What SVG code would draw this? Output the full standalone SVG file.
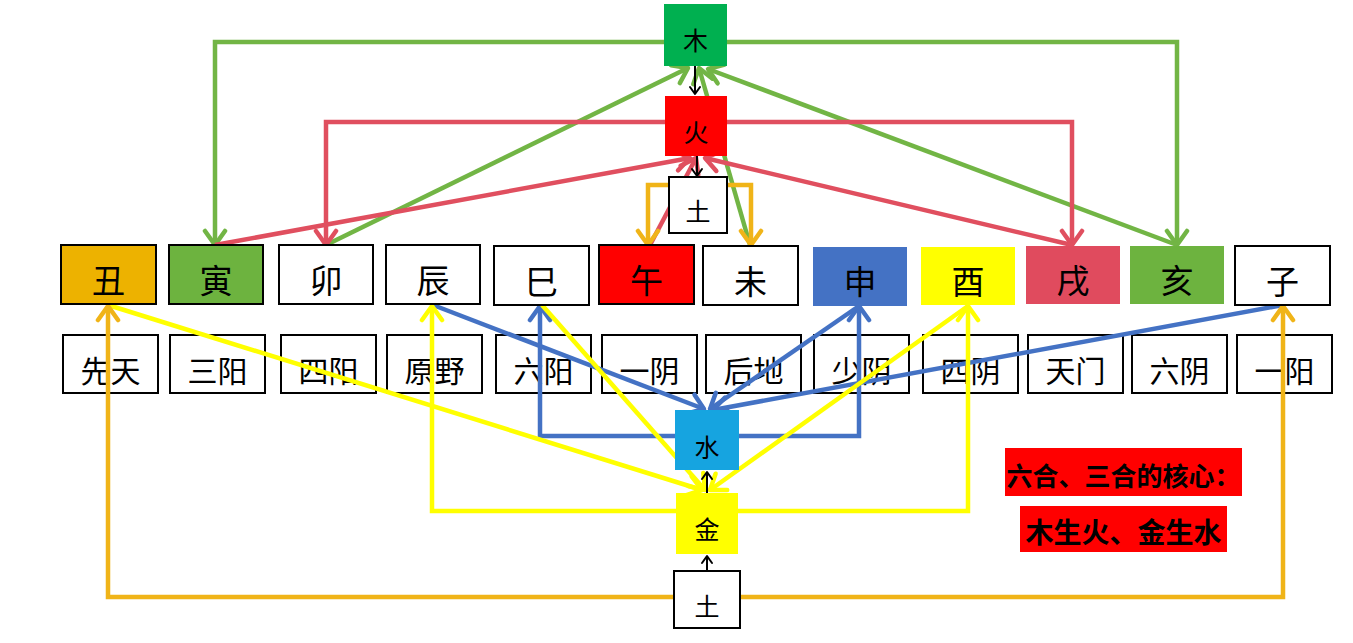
<svg xmlns="http://www.w3.org/2000/svg" width="1353" height="643" viewBox="0 0 1353 643">
<style>
.t{font-family:"Noto Sans CJK SC","Liberation Sans",sans-serif;fill:#000;text-anchor:middle;dominant-baseline:central}
.big{font-size:33px}
.lab{font-size:30px}
.mid{font-size:25px}
.note{font-size:26px;font-weight:bold}
.bx{stroke:#000;stroke-width:2}
.nb{stroke:none}
.c{fill:none;stroke-width:4.5;stroke-linejoin:miter}
.g{stroke:#72B545}
.r{stroke:#E04F5F}
.o{stroke:#F0B418}
.b{stroke:#4472C4}
.y{stroke:#FFFF00}
.k{fill:none;stroke:#000;stroke-width:2}
</style>
<defs>
<marker id="mg" markerUnits="userSpaceOnUse" viewBox="-20 -13 24 26" markerWidth="24" markerHeight="26" refX="0" refY="0" orient="auto"><path d="M-14,-10 L0,0 L-14,10" fill="none" stroke="#72B545" stroke-width="4.5" stroke-linecap="round" stroke-linejoin="round"/></marker>
<marker id="mr" markerUnits="userSpaceOnUse" viewBox="-20 -13 24 26" markerWidth="24" markerHeight="26" refX="0" refY="0" orient="auto"><path d="M-14,-10 L0,0 L-14,10" fill="none" stroke="#E04F5F" stroke-width="4.5" stroke-linecap="round" stroke-linejoin="round"/></marker>
<marker id="mo" markerUnits="userSpaceOnUse" viewBox="-20 -13 24 26" markerWidth="24" markerHeight="26" refX="0" refY="0" orient="auto"><path d="M-14,-10 L0,0 L-14,10" fill="none" stroke="#F0B418" stroke-width="4.5" stroke-linecap="round" stroke-linejoin="round"/></marker>
<marker id="mb" markerUnits="userSpaceOnUse" viewBox="-20 -13 24 26" markerWidth="24" markerHeight="26" refX="0" refY="0" orient="auto"><path d="M-14,-10 L0,0 L-14,10" fill="none" stroke="#4472C4" stroke-width="4.5" stroke-linecap="round" stroke-linejoin="round"/></marker>
<marker id="my" markerUnits="userSpaceOnUse" viewBox="-20 -13 24 26" markerWidth="24" markerHeight="26" refX="0" refY="0" orient="auto"><path d="M-14,-10 L0,0 L-14,10" fill="none" stroke="#FFFF00" stroke-width="4.5" stroke-linecap="round" stroke-linejoin="round"/></marker>
<marker id="mk" markerUnits="userSpaceOnUse" viewBox="-10 -7 12 14" markerWidth="12" markerHeight="14" refX="0" refY="0" orient="auto"><path d="M-7,-5 L0,0 L-7,5" fill="none" stroke="#000" stroke-width="2" stroke-linecap="round" stroke-linejoin="round"/></marker>
</defs>
<rect width="1353" height="643" fill="#fff"/>

<g id="labels">
<g id="l1"><rect class="bx" x="63" y="335" width="95" height="58" fill="#fff"/><text class="t lab" x="110.5" y="369">先天</text></g>
<g id="l2"><rect class="bx" x="170" y="335" width="95" height="58" fill="#fff"/><text class="t lab" x="217.5" y="369">三阳</text></g>
<g id="l3"><rect class="bx" x="281" y="335" width="95" height="58" fill="#fff"/><text class="t lab" x="328.5" y="369">四阳</text></g>
<g id="l4"><rect class="bx" x="387" y="335" width="95" height="58" fill="#fff"/><text class="t lab" x="434.5" y="369">原野</text></g>
<g id="l5"><rect class="bx" x="496" y="335" width="95" height="58" fill="#fff"/><text class="t lab" x="543.5" y="369">六阳</text></g>
<g id="l6"><rect class="bx" x="602" y="335" width="95" height="58" fill="#fff"/><text class="t lab" x="649.5" y="369">一阴</text></g>
<g id="l7"><rect class="bx" x="706" y="335" width="95" height="58" fill="#fff"/><text class="t lab" x="753.5" y="369">后地</text></g>
<g id="l8"><rect class="bx" x="814" y="335" width="95" height="58" fill="#fff"/><text class="t lab" x="861.5" y="369">少阴</text></g>
<g id="l9"><rect class="bx" x="923" y="335" width="95" height="58" fill="#fff"/><text class="t lab" x="970.5" y="369">四阴</text></g>
<g id="l10"><rect class="bx" x="1028" y="335" width="95" height="58" fill="#fff"/><text class="t lab" x="1075.5" y="369">天门</text></g>
<g id="l11"><rect class="bx" x="1132" y="335" width="95" height="58" fill="#fff"/><text class="t lab" x="1179.5" y="369">六阴</text></g>
<g id="l12"><rect class="bx" x="1237" y="335" width="95" height="58" fill="#fff"/><text class="t lab" x="1284.5" y="369">一阳</text></g>
</g>

<g id="connectors">
<polyline class="c g" points="664,42 215,42 215,245" marker-end="url(#mg)"/>
<polyline class="c g" points="727,42 1177,42 1177,245" marker-end="url(#mg)"/>
<line class="c g" x1="326" y1="245" x2="688" y2="68" marker-end="url(#mg)"/>
<line class="c g" x1="750" y1="245" x2="699" y2="68" marker-end="url(#mg)"/>
<line class="c g" x1="1177" y1="245" x2="708" y2="69" marker-end="url(#mg)"/>
<polyline class="c r" points="665,122 326,122 326,245" marker-end="url(#mr)"/>
<polyline class="c r" points="727,122 1072,122 1072,245" marker-end="url(#mr)"/>
<line class="c r" x1="215" y1="245" x2="690" y2="158" marker-end="url(#mr)"/>
<line class="c r" x1="650" y1="245" x2="696" y2="158" marker-end="url(#mr)"/>
<line class="c r" x1="1072" y1="245" x2="705" y2="158" marker-end="url(#mr)"/>
<polyline class="c o" points="669,185 648,185 648,245" marker-end="url(#mo)"/>
<polyline class="c o" points="727,185 751,185 751,245" marker-end="url(#mo)"/>
<polyline class="c b" points="675,436 540,436 540,306" marker-end="url(#mb)"/>
<polyline class="c b" points="739,436 859,436 859,306" marker-end="url(#mb)"/>
<line class="c b" x1="433" y1="305" x2="704" y2="409" marker-end="url(#mb)"/>
<line class="c b" x1="859" y1="306" x2="710" y2="409" marker-end="url(#mb)"/>
<line class="c b" x1="1283" y1="305" x2="713" y2="410" marker-end="url(#mb)"/>
<polyline class="c y" points="676,511 432,511 432,306" marker-end="url(#my)"/>
<polyline class="c y" points="738,511 968,511 968,306" marker-end="url(#my)"/>
<line class="c y" x1="108" y1="305" x2="702" y2="490" marker-end="url(#my)"/>
<line class="c y" x1="542" y1="305" x2="705" y2="490" marker-end="url(#my)"/>
<line class="c y" x1="968" y1="306" x2="710" y2="490" marker-end="url(#my)"/>
<polyline class="c o" points="674,597 108,597 108,306" marker-end="url(#mo)"/>
<polyline class="c o" points="740,597 1283,597 1283,306" marker-end="url(#mo)"/>
<line class="k" x1="695" y1="66" x2="695" y2="94" marker-end="url(#mk)"/>
<line class="k" x1="697" y1="156" x2="697" y2="176" marker-end="url(#mk)"/>
<line class="k" x1="707" y1="493" x2="707" y2="472" marker-end="url(#mk)"/>
<line class="k" x1="707" y1="571" x2="707" y2="556" marker-end="url(#mk)"/>
</g>

<g id="n-chou"><rect class="bx" x="61" y="245" width="95" height="59" fill="#EDB200"/><text class="t big" x="108.5" y="279">丑</text></g>
<g id="n-yin"><rect class="bx" x="169" y="245" width="94" height="59" fill="#6DB33F"/><text class="t big" x="216" y="279">寅</text></g>
<g id="n-mao"><rect class="bx" x="279" y="245" width="94" height="59" fill="#fff"/><text class="t big" x="326" y="279">卯</text></g>
<g id="n-chen"><rect class="bx" x="386" y="245" width="94" height="59" fill="#fff"/><text class="t big" x="433" y="279">辰</text></g>
<g id="n-si"><rect class="bx" x="494" y="246" width="95" height="59" fill="#fff"/><text class="t big" x="541.5" y="280">巳</text></g>
<g id="n-wu"><rect class="bx" x="599" y="245" width="95" height="59" fill="#FF0000"/><text class="t big" x="646.5" y="279">午</text></g>
<g id="n-wei"><rect class="bx" x="703" y="246" width="95" height="59" fill="#fff"/><text class="t big" x="750.5" y="280">未</text></g>
<g id="n-shen"><rect class="nb" x="813" y="247" width="94" height="59" fill="#4472C4"/><text class="t big" x="860" y="280">申</text></g>
<g id="n-you"><rect class="nb" x="921" y="247" width="94" height="58" fill="#FFFF00"/><text class="t big" x="968" y="280">酉</text></g>
<g id="n-xu"><rect class="nb" x="1026" y="246" width="94" height="58" fill="#E04B5E"/><text class="t big" x="1073" y="279">戌</text></g>
<g id="n-hai"><rect class="nb" x="1130" y="246" width="94" height="58" fill="#6DB33F"/><text class="t big" x="1177" y="279">亥</text></g>
<g id="n-zi"><rect class="bx" x="1235" y="246" width="95" height="59" fill="#fff"/><text class="t big" x="1282.5" y="280">子</text></g>

<g id="n-mu"><rect class="nb" x="664" y="4" width="63" height="62" fill="#00B050"/><text class="t mid" x="695.5" y="39">木</text></g>
<g id="n-huo"><rect class="nb" x="665" y="96" width="62" height="60" fill="#FF0000"/><text class="t mid" x="696" y="131">火</text></g>
<g id="n-tu1"><rect class="bx" x="669" y="177" width="58" height="56" fill="#fff"/><text class="t mid" x="698" y="210">土</text></g>
<g id="n-shui"><rect class="nb" x="675" y="410" width="64" height="60" fill="#16A4E0"/><text class="t mid" x="707" y="446">水</text></g>
<g id="n-jin"><rect class="nb" x="676" y="493" width="62" height="61" fill="#FFFF00"/><text class="t mid" x="707" y="528">金</text></g>
<g id="n-tu2"><rect class="bx" x="674" y="571" width="66" height="57" fill="#fff"/><text class="t mid" x="707" y="605">土</text></g>

<g id="note1"><rect x="1005" y="448" width="237" height="48" fill="#FF0000"/><text class="t note" x="1123.5" y="474">六合、三合的核心：</text></g>
<g id="note2"><rect x="1020" y="506" width="207" height="46" fill="#FF0000"/><text class="t note" x="1123.5" y="531" style="font-size:28px">木生火、金生水</text></g>
</svg>
